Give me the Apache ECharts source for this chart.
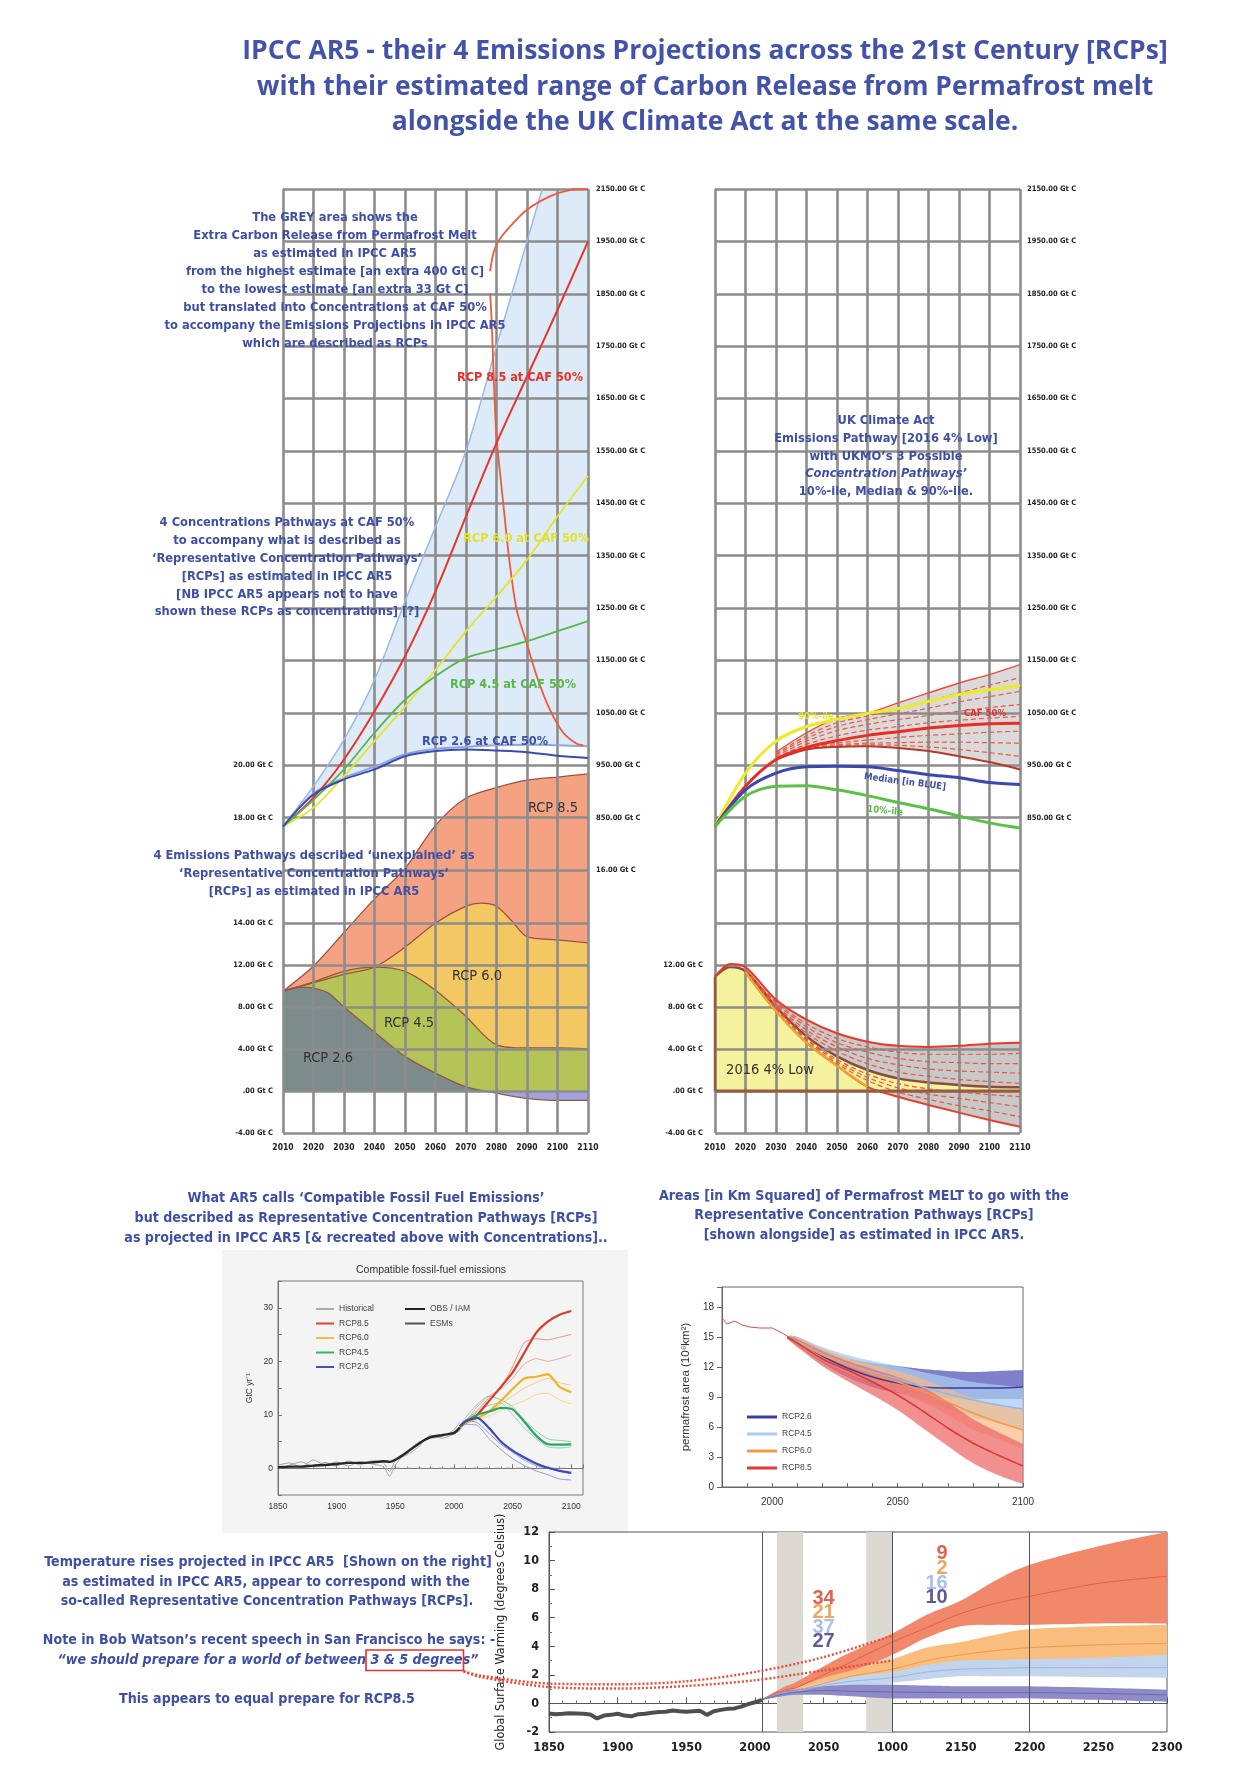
<!DOCTYPE html>
<html>
<head>
<meta charset="utf-8">
<title>IPCC AR5 RCPs and UK Climate Act</title>
<script src="https://cdn.jsdelivr.net/npm/echarts/dist/echarts.min.js"></script>
<style>
html,body{margin:0;padding:0;background:#ffffff;}
#chart{width:1256px;height:1787px;}
</style>
</head>
<body>
<div id="chart"></div>
<script>
// ================= DATA =================
const decadeTicks = [2010,2020,2030,2040,2050,2060,2070,2080,2090,2100,2110];
const decadeLabels = ['2010','2020','2030','2040','2050','2060','2070','2080','2090','2100','2110'];
const concTicks = [750,850,950,1050,1150,1250,1350,1450,1550,1650,1750,1850,1950,2050];
const concLabelsLeft = ['16.00 Gt C','850.00 Gt C','950.00 Gt C','1050.00 Gt C','1150.00 Gt C','1250.00 Gt C','1350.00 Gt C','1450.00 Gt C','1550.00 Gt C','1650.00 Gt C','1750.00 Gt C','1850.00 Gt C','1950.00 Gt C','2150.00 Gt C'];
const concLabelsRight = ['','850.00 Gt C','950.00 Gt C','1050.00 Gt C','1150.00 Gt C','1250.00 Gt C','1350.00 Gt C','1450.00 Gt C','1550.00 Gt C','1650.00 Gt C','1750.00 Gt C','1850.00 Gt C','1950.00 Gt C','2150.00 Gt C'];
const concSideTicks = [850,950];
const concSideLabels = ['18.00 Gt C','20.00 Gt C'];
const emTicks = [-4,0,4,8,12,16];
const emLabelsLeft = ['-4.00 Gt C','.00 Gt C','4.00 Gt C','8.00 Gt C','12.00 Gt C','14.00 Gt C'];
const emLabelsRight = ['-4.00 Gt C','.00 Gt C','4.00 Gt C','8.00 Gt C','12.00 Gt C',''];

// left panel – concentrations (Gt C) at CAF 50%
const concYears = [2010,2020,2030,2040,2050,2060,2070,2080,2090,2100,2110];
const rcp85Conc = [833,888,961,1053,1158,1282,1425,1565,1692,1819,1950];
const rcp60Conc = [833,869,929,996,1062,1132,1206,1272,1342,1425,1502];
const rcp45Conc = [833,884,942,1012,1075,1120,1155,1171,1187,1206,1225];
const rcp26Conc = [833,894,923,942,967,977,980,978,975,968,964];
const permaYears = [2010,2020,2030,2040,2050,2060,2070,2080,2090,2095,2100,2110];
const permaHighConc = [833,910,999,1113,1263,1405,1550,1750,1950,2050,2050,2050];
const permaLowConc = [833,896,926,947,971,981,985,988,989,989,988,986];
const arcUpYears = [2077.9,2079,2080.6,2084.4,2089.9,2097.5,2104,2110];
const arcUpConc = [1893,1928,1950,1978,2010,2036,2048,2050];
const arcDownYears = [2077.9,2078.4,2079,2080,2082.2,2084.2,2086.6,2089.9,2093.2,2097.5,2101.9,2106.3,2108.5];
const arcDownConc = [1851,1800,1705,1578,1451,1342,1247,1183,1120,1056,1012,991,988];
// left panel – emissions (Gt C / yr)
const emYears = [2010,2020,2030,2040,2050,2060,2070,2080,2090,2100,2110];
const rcp85Em = [9.5,11.9,15.1,18.3,21.2,25.3,27.9,28.9,29.6,29.9,30.2];
const em60Years = [2010,2020,2030,2040,2050,2060,2070,2075,2080,2085,2090,2100,2110];
const rcp60Em = [9.5,10.3,11.1,11.8,13.7,16.0,17.6,17.9,17.6,16.2,14.7,14.4,14.1];
const rcp45Em = [9.5,10.4,11.4,11.8,11.4,9.6,7.1,4.4,4.1,4.1,4.0];
const em26Years = [2010,2015,2020,2025,2030,2040,2050,2060,2070,2080,2090,2100,2110];
const rcp26Em = [9.5,9.9,9.8,9.3,8.0,5.6,3.3,1.7,0.4,-0.2,-0.7,-0.9,-0.9];

// right panel – UK Climate Act concentrations
const ukConc90 = [833,935,996,1024,1038,1049,1058,1072,1085,1094,1102];
const ukConc50 = [833,910,961,984,997,1007,1014,1021,1026,1029,1030];
const ukConcMed = [833,903,935,947,948,947,940,932,926,917,913];
const ukConc10 = [833,891,910,911,903,892,879,867,853,840,830];
const fanYears = [2030,2040,2050,2060,2070,2080,2090,2100,2110];
const fanTop = [975,1012,1040,1049,1069,1088,1107,1123,1142];
const fanL1 = [972,1006,1031,1044,1058,1073,1088,1103,1117];
const fanL2 = [970,1001,1024,1037,1048,1059,1071,1081,1091];
const fanL3 = [967,996,1016,1028,1037,1045,1053,1060,1066];
const fanL4 = [964,990,1006,1017,1024,1031,1036,1040,1043];
const fanL5 = [961,982,992,998,1003,1007,1010,1013,1015];
const fanL6 = [961,981,989,992,993,994,994,993,992];
const fanL7 = [961,980,987,989,988,985,980,974,967];
const fanBottom = [961,980,985,986,983,977,967,956,942];
// right panel – UK emissions pathway (2016 4% Low)
const ukEmYears = [2010,2015,2020,2030,2040,2050,2060,2070,2080,2090,2100,2110];
const ukEm = [10.9,11.8,11.4,8.0,5.2,3.3,2.0,1.2,0.8,0.57,0.4,0.35];
const ukTopEm = [10.9,12.1,11.8,8.7,6.8,5.5,4.7,4.3,4.2,4.3,4.5,4.6];
const ukFanYears = [2020,2030,2040,2050,2060,2070,2080,2090,2100,2110];
const ukFanTop = [11.8,8.7,6.8,5.5,4.7,4.3,4.2,4.3,4.5,4.6];
const ukFanBot = [11.3,7.6,4.6,2.4,0.4,-0.55,-1.33,-2.06,-2.76,-3.4];
const ukU1 = [11.5,8.5,6.4,5.0,4.2,3.7,3.5,3.5,3.5,3.6];
const ukU2 = [11.5,8.4,6.1,4.6,3.7,3.1,2.8,2.7,2.6,2.6];
const ukU3 = [11.4,8.2,5.8,4.2,3.1,2.5,2.1,1.9,1.8,1.7];
const ukU4 = [11.4,8.1,5.5,3.8,2.6,1.8,1.4,1.1,0.9,0.73];
const ukD1 = [11.4,7.9,5.0,3.0,1.6,0.7,0.2,-0.1,-0.35,-0.54];
const ukD2 = [11.4,7.8,4.9,2.8,1.3,0.3,-0.3,-0.7,-1.1,-1.5];
const ukD3 = [11.3,7.7,4.7,2.6,1.0,-0.1,-0.8,-1.4,-1.9,-2.45];
const ukBaseYears = [2010,2110];
const ukBaseEm = [0,0];
const ukEdgeYears = [2010,2010];
const ukEdgeEm = [0,10.9];

// compatible fossil-fuel emissions (GtC/yr)
const ffHistYears = [1850,1860,1870,1880,1890,1900,1910,1920,1930,1940,1945,1950,1960,1970,1980,1990,2000,2005];
const ffObs = [0.2,0.3,0.3,0.5,0.6,0.8,1.0,1.0,1.1,1.3,1.2,1.6,3.0,4.6,5.8,6.2,6.6,7.6];
const ffHistA = [0.6,1.0,0.2,1.6,0.6,1.2,0.4,1.2,0.8,0.3,-1.5,0.6,3.2,4.9,5.6,5.9,7.2,8.6];
const ffHistB = [-0.2,0.6,1.2,0.3,1.1,0.4,1.4,0.6,1.4,1.0,-0.6,1.4,2.5,4.0,6.2,5.6,6.4,7.0];
const ffYears = [2005,2010,2020,2030,2040,2050,2060,2070,2080,2090,2100];
const ff85 = [7.8,8.5,10.0,12.6,15.2,17.9,21.6,25.3,27.4,28.7,29.4];
const ff85a = [7.5,9.0,10.8,13.2,15.0,19.0,23.5,24.2,24.0,24.5,25.0];
const ff85b = [7.0,8.8,11.5,13.5,14.8,16.8,19.5,20.5,20.0,20.5,21.2];
const ff60 = [7.8,8.5,9.4,10.6,12.6,14.8,16.8,17.1,17.6,15.2,14.2];
const ff60a = [7.6,8.3,9.0,9.8,10.8,11.8,12.6,13.8,14.0,12.8,12.0];
const ff60b = [7.7,8.6,9.5,10.5,12.0,13.5,15.0,16.0,16.8,16.0,15.5];
const ff45 = [7.8,8.7,10.0,10.6,11.3,11.0,8.7,6.1,4.5,4.4,4.45];
const ff45a = [8.0,9.5,12.0,13.5,12.8,11.5,9.0,7.0,5.5,5.2,5.0];
const ff45b = [7.5,8.8,10.5,11.8,12.2,10.0,7.5,5.5,4.0,3.8,4.0];
const ff26 = [7.8,8.8,9.4,7.5,5.0,3.3,2.0,0.9,0.1,-0.5,-0.85];
const ff26a = [7.5,8.2,8.0,5.5,3.5,1.8,0.5,-0.5,-1.2,-2.0,-2.2];
const ff26b = [7.9,9.0,8.5,6.5,4.5,3.0,1.5,0.5,0.0,-0.5,-1.0];
const ffZeroYears = [1950,2100];
const ffZero = [0,0];

// permafrost area (10^6 km2)
const pfHistYears = [1980,1982,1985,1988,1991,1995,2000,2004,2006];
const pfHist = [16.9,16.3,16.6,16.2,16.0,15.9,15.9,15.4,15.1];
const pfYears = [2006,2010,2020,2030,2040,2050,2060,2070,2080,2090,2100];
const pf26Mean = [15.0,14.6,13.1,11.9,11.0,10.4,10.0,9.9,9.9,9.9,10.0];
const pf26Lo = [14.9,14.1,12.4,11.0,10.0,9.4,9.0,8.9,8.8,8.8,8.8];
const pf26Hi = [15.1,15.0,13.8,12.9,12.4,12.1,11.8,11.6,11.5,11.6,11.7];
const pf45Mean = [15.0,14.6,13.3,12.3,11.5,10.8,10.0,9.3,8.7,8.2,7.8];
const pf45Lo = [14.9,14.2,12.6,11.4,10.4,9.5,8.7,7.8,7.0,6.4,5.8];
const pf45Hi = [15.1,15.0,14.0,13.2,12.6,12.1,11.5,11.0,10.5,10.2,10.0];
const pf60Mean = [15.0,14.5,13.2,12.2,11.3,10.5,9.6,8.5,7.4,6.5,5.7];
const pf60Lo = [14.9,14.1,12.6,11.4,10.4,9.5,8.5,7.2,5.8,4.8,3.8];
const pf60Hi = [15.1,15.0,13.8,12.9,12.2,11.6,10.8,9.8,8.9,8.2,7.7];
const pf85Mean = [15.0,14.4,12.8,11.7,10.5,9.2,7.6,5.9,4.4,3.2,2.1];
const pf85Lo = [14.8,14.0,12.1,10.6,9.2,7.7,5.9,4.1,2.4,1.2,0.3];
const pf85Hi = [15.1,14.8,13.6,12.6,11.8,11.0,10.0,8.5,6.8,5.5,4.3];

// global surface warming (deg C)
const tHistYears = [1850,1855,1860,1865,1870,1875,1880,1885,1890,1895,1900,1905,1910,1915,1920,1925,1930,1935,1940,1945,1950,1955,1960,1965,1970,1975,1980,1985,1990,1995,2000,2005];
const tHist = [-0.70,-0.75,-0.72,-0.68,-0.70,-0.72,-0.78,-1.05,-0.85,-0.80,-0.72,-0.85,-0.90,-0.75,-0.72,-0.65,-0.60,-0.58,-0.50,-0.55,-0.58,-0.55,-0.52,-0.80,-0.55,-0.45,-0.38,-0.35,-0.22,-0.05,0.08,0.25];
const tYears = [2005,2020,2030,2050,2070,2100,2125,2150,2175,2200,2250,2300];
const t85Lo = [0.25,0.6,0.75,1.3,2.2,3.4,4.6,5.4,5.5,5.5,5.6,5.6];
const t85Hi = [0.3,1.1,1.5,2.6,3.6,4.9,6.2,7.2,8.6,9.7,11.0,12.0];
const t85Mean = [0.27,0.9,1.1,2.0,2.9,4.3,5.3,6.3,7.0,7.5,8.4,8.9];
const t60Lo = [0.25,0.55,0.7,1.1,1.5,1.9,2.4,2.65,2.8,2.9,3.0,3.1];
const t60Hi = [0.3,0.9,1.1,1.8,2.3,3.1,3.9,4.3,4.8,5.2,5.4,5.5];
const t60Mean = [0.27,0.7,0.9,1.4,1.9,2.4,3.0,3.4,3.7,3.9,4.1,4.2];
const t45Lo = [0.25,0.55,0.7,1.0,1.2,1.45,1.7,1.9,1.9,1.9,1.85,1.8];
const t45Hi = [0.3,0.85,1.0,1.5,1.9,2.2,2.7,3.0,3.05,3.1,3.2,3.4];
const t45Mean = [0.27,0.7,0.85,1.25,1.55,1.8,2.2,2.4,2.45,2.5,2.5,2.5];
const t26Lo = [0.25,0.5,0.6,0.6,0.5,0.35,0.35,0.35,0.35,0.35,0.25,0.12];
const t26Hi = [0.3,0.85,1.0,1.2,1.3,1.3,1.25,1.2,1.2,1.2,1.1,0.96];
const t26Mean = [0.27,0.65,0.8,0.9,0.85,0.8,0.78,0.75,0.75,0.75,0.7,0.6];
const tDotYears = [1788,1800,1850,1900,1950,2000,2050,2100];
const tDotUpper = [2.24,1.96,1.39,1.34,1.55,2.2,3.24,4.74];
const tDotLower = [2.24,1.85,1.15,1.04,1.22,1.62,2.31,3.0];
const tBarStart = [2016,2081];
const tBarEnd = [2035,2100];
const tRefYears = [2005,2100,2200];
const tTicks = [1850,1900,1950,2000,2050,2100,2150,2200,2250,2300];
const tLabels = ['1850','1900','1950','2000','2050','1000','2150','2200','2250','2300'];

// ================= HELPERS =================
const GRIDC = '#8c8c8c', GW = 2.6;
const NARROW = '"Liberation Sans Narrow","DejaVu Sans Condensed",sans-serif';
const SANS = '"Liberation Sans",Arial,sans-serif';
const BLUE = '#3e4fa6';
const pick = (ticks, labels) => v => { const i = ticks.findIndex(t => Math.abs(t - v) < 1e-6); return i >= 0 ? labels[i] : ''; };
const P = (xs, ys) => xs.map((x, i) => [x, ys[i]]);

const grids = [
  {left:283, top:189, width:305, height:944},
  {left:283, top:189, width:305, height:681},
  {left:283, top:923, width:305, height:210},
  {left:715, top:189, width:305, height:944},
  {left:715, top:189, width:305, height:681},
  {left:715, top:923, width:305, height:210},
  {left:278, top:1281, width:305, height:214, show:true, borderColor:'#7a7a7a', borderWidth:1},
  {left:722, top:1287, width:301, height:200, show:true, borderColor:'#666', borderWidth:1},
  {left:549, top:1532, width:618, height:200, show:true, borderColor:'#555', borderWidth:1},
  // same vertical scale as the warming plot, widened to the left for the annotation curves
  {left:463.6, top:1532, width:703.4, height:200}
].map(g => Object.assign({outerBoundsMode:'none', containLabel:false}, g));

function tinyLabel(margin, formatter, size) {
  return {margin, formatter, fontSize:size || 7.5, fontWeight:'bold', fontFamily:NARROW, color:'#222', showMinLabel:true, showMaxLabel:true};
}
function vertX(gi) {
  return {gridIndex:gi, type:'value', min:2010, max:2110, interval:10, z:3,
    axisLine:{show:false}, axisTick:{show:false},
    splitLine:{show:true, lineStyle:{color:GRIDC, width:GW}},
    axisLabel:tinyLabel(10, pick(decadeTicks, decadeLabels), 8.5)};
}
function hidX(gi) { return {gridIndex:gi, type:'value', min:2010, max:2110, show:false}; }
function concY(gi, labels, margin) {
  return {gridIndex:gi, type:'value', min:750, max:2050, interval:100, position:'right', z:3,
    axisLine:{show:false}, axisTick:{show:false},
    splitLine:{show:true, lineStyle:{color:GRIDC, width:GW}},
    axisLabel:tinyLabel(margin, pick(concTicks, labels))};
}
function emY(gi, labels, margin) {
  return {gridIndex:gi, type:'value', min:-4, max:16, interval:4, position:'left', z:3,
    axisLine:{show:false}, axisTick:{show:false},
    splitLine:{show:true, lineStyle:{color:GRIDC, width:GW}},
    axisLabel:tinyLabel(margin, pick(emTicks, labels))};
}

const xAxis = [
  vertX(0), hidX(1), hidX(2),
  vertX(3), hidX(4), hidX(5),
  {gridIndex:6, type:'value', min:1850, max:2110, interval:50,
    axisLine:{show:true, lineStyle:{color:'#777'}}, axisTick:{inside:true, length:4, lineStyle:{color:'#777'}},
    minorTick:{show:true, splitNumber:5, length:2, lineStyle:{color:'#999'}}, splitLine:{show:false},
    axisLabel:{margin:7, fontSize:8.5, fontFamily:SANS, color:'#333', formatter:v => (v <= 2100 ? String(v) : '')}},
  {gridIndex:7, type:'value', min:1980, max:2100, interval:10,
    axisLine:{show:true, lineStyle:{color:'#666'}}, axisTick:{inside:true, length:4, lineStyle:{color:'#666'}}, splitLine:{show:false},
    axisLabel:{margin:10, fontSize:10, fontFamily:SANS, color:'#333', formatter:v => (v % 50 === 0 ? String(v) : '')}},
  {gridIndex:8, type:'value', min:1850, max:2300, interval:50,
    axisLine:{show:true, lineStyle:{color:'#555'}}, axisTick:{inside:true, length:6, lineStyle:{color:'#555'}},
    minorTick:{show:true, splitNumber:5, length:3, lineStyle:{color:'#777'}}, splitLine:{show:false},
    axisLabel:{margin:9, fontSize:12.5, fontWeight:'bold', fontFamily:NARROW, color:'#222', formatter:pick(tTicks, tLabels)}},
  {gridIndex:9, type:'value', min:1788, max:2300, show:false}
];
const yAxis = [
  {gridIndex:0, type:'value', min:0, max:1, show:false},
  concY(1, concLabelsLeft, 8),
  {gridIndex:1, type:'value', min:750, max:2050, interval:100, position:'left',
    axisLine:{show:false}, axisTick:{show:false}, splitLine:{show:false},
    axisLabel:tinyLabel(10, pick(concSideTicks, concSideLabels))},
  emY(2, emLabelsLeft, 10),
  {gridIndex:3, type:'value', min:0, max:1, show:false},
  concY(4, concLabelsRight, 7),
  emY(5, emLabelsRight, 12),
  {gridIndex:6, type:'value', min:-5, max:35, interval:5,
    axisLine:{show:true, lineStyle:{color:'#777'}}, axisTick:{inside:true, length:4, lineStyle:{color:'#777'}}, splitLine:{show:false},
    axisLabel:{margin:5, fontSize:8.5, fontFamily:SANS, color:'#333', formatter:v => (v % 10 === 0 ? String(v) : '')},
    name:'GtC yr\u207B\u00B9', nameLocation:'middle', nameRotate:90, nameGap:24, nameTextStyle:{fontSize:8.5, fontFamily:SANS, color:'#333'}},
  {gridIndex:7, type:'value', min:0, max:20, interval:3,
    axisLine:{show:true, lineStyle:{color:'#666'}}, axisTick:{inside:false, length:5, lineStyle:{color:'#666'}}, splitLine:{show:false},
    axisLabel:{margin:8, fontSize:10, fontFamily:SANS, color:'#333', formatter:v => (v <= 18 ? String(v) : '')},
    name:'permafrost area (10\u2076km\u00B2)', nameLocation:'middle', nameRotate:90, nameGap:30, nameTextStyle:{fontSize:11.5, fontFamily:SANS, color:'#333'}},
  {gridIndex:8, type:'value', min:-2, max:12, interval:2,
    axisLine:{show:true, lineStyle:{color:'#555'}}, axisTick:{inside:true, length:6, lineStyle:{color:'#555'}},
    minorTick:{show:true, splitNumber:2, length:3, lineStyle:{color:'#777'}}, splitLine:{show:false},
    axisLabel:{margin:10, fontSize:12.5, fontWeight:'bold', fontFamily:NARROW, color:'#222'},
    name:'Global Surface Warming (degrees Celsius)', nameLocation:'middle', nameRotate:90, nameGap:42,
    nameTextStyle:{fontSize:12.5, fontFamily:NARROW, color:'#222'}},
  {gridIndex:9, type:'value', min:-2, max:12, show:false}
];

const S = [];
function ln(name, xs, ys, xi, yi, color, width, opt) {
  const s = {type:'line', name, data:P(xs, ys), xAxisIndex:xi, yAxisIndex:yi, symbol:'none', showSymbol:false,
    smooth:0.3, silent:true, z:4, lineStyle:{color, width}, itemStyle:{color}};
  if (opt) {
    const ls = opt.lineStyle; delete opt.lineStyle;
    Object.assign(s, opt);
    if (ls) Object.assign(s.lineStyle, ls);
  }
  S.push(s); return s;
}
// Catmull-Rom smoothing of already projected pixel points (drawing only)
function curve(pts) {
  if (pts.length < 3) return pts.slice();
  const out = [];
  for (let i = 0; i < pts.length - 1; i++) {
    const p0 = pts[Math.max(i - 1, 0)], p1 = pts[i], p2 = pts[i + 1], p3 = pts[Math.min(i + 2, pts.length - 1)];
    for (let k = 0; k < 8; k++) {
      const t = k / 8, t2 = t * t, t3 = t2 * t;
      const f = d => 0.5 * (2 * p1[d] + (-p0[d] + p2[d]) * t + (2 * p0[d] - 5 * p1[d] + 4 * p2[d] - p3[d]) * t2 + (-p0[d] + 3 * p1[d] - 3 * p2[d] + p3[d]) * t3);
      out.push([f(0), f(1)]);
    }
  }
  out.push(pts[pts.length - 1]);
  return out;
}
function band(id, xs, lo, hi, color, xi, yi, opacity, z) {
  S.push({type:'custom', name:id, xAxisIndex:xi, yAxisIndex:yi, z:(z === undefined ? 1 : z), silent:true, clip:true,
    data:[[xs[0], lo[0]]],
    renderItem:(params, api) => {
      const up = curve(xs.map((x, i) => api.coord([x, hi[i]])));
      const dn = curve(xs.map((x, i) => api.coord([x, lo[i]]))).reverse();
      return {type:'polygon', shape:{points:up.concat(dn)}, style:{fill:color, opacity:opacity}};
    }});
}
function area(name, xs, ys, xi, yi, color, edge, z) {
  const s = {type:'line', name, data:P(xs, ys), xAxisIndex:xi, yAxisIndex:yi, symbol:'none', showSymbol:false,
    smooth:0.3, clip:false, silent:true, z:(z || 2), lineStyle:{color:edge, width:1.3}, areaStyle:{opacity:1}};
  if (color) s.areaStyle.color = color;
  S.push(s); return s;
}

// ---- left panel ----
band('permaFill', permaYears, permaLowConc, permaHighConc, '#dcebf7', 1, 1, 1, 1);
ln('permaHigh', permaYears.slice(0, 10), permaHighConc.slice(0, 10), 1, 1, '#9bb9e3', 1.5);
ln('permaLow', permaYears, permaLowConc, 1, 1, '#8ea6dc', 2);
ln('arcUp', arcUpYears, arcUpConc, 1, 1, '#ef5a3c', 1.8);
ln('arcDown', arcDownYears, arcDownConc, 1, 1, '#ef5a3c', 1.8);
ln('c85', concYears, rcp85Conc, 1, 1, '#e8342a', 2);
ln('c60', concYears, rcp60Conc, 1, 1, '#e4e42c', 1.8);
ln('c45', concYears, rcp45Conc, 1, 1, '#5ab848', 1.8);
ln('c26', concYears, rcp26Conc, 1, 1, '#3b4cb0', 2);
area('e85', emYears, rcp85Em, 2, 3, '#f5a283', '#a0503f');
area('e60', em60Years, rcp60Em, 2, 3, '#f3c862', '#a0503f');
area('e45', emYears, rcp45Em, 2, 3, '#b4c456', '#a0503f');
const e26 = area('e26', em26Years, rcp26Em, 2, 3, null, '#8d5a48');

// ---- right panel, concentrations ----
band('ukFan', fanYears, fanBottom, fanTop, '#dadada', 4, 5, 1, 1);
[fanL1, fanL2, fanL3, fanL4, fanL5, fanL6, fanL7].forEach((arr, i) =>
  ln('fan' + i, fanYears, arr, 4, 5, '#f0583f', 1.2, {lineStyle:{type:[5, 3]}}));
ln('fanTop', fanYears, fanTop, 4, 5, '#ee4a36', 1.4);
ln('fanBottom', fanYears, fanBottom, 4, 5, '#b53a2c', 2);
ln('uk90', concYears, ukConc90, 4, 5, '#eeea26', 3);
ln('uk50', concYears, ukConc50, 4, 5, '#ee2a22', 3);
ln('ukMed', concYears, ukConcMed, 4, 5, '#3848b0', 3);
ln('uk10', concYears, ukConc10, 4, 5, '#5cbf48', 3);

// ---- right panel, emissions ----
band('ukEmFan', ukFanYears, ukFanBot, ukFanTop, '#c9c9c9', 5, 6, 1, 1);
area('ukLow', ukEmYears, ukEm, 5, 6, '#f4f29c', '#8c4b3b', 2).lineStyle.width = 2.5;
[ukU1, ukU2, ukU3, ukU4, ukD1, ukD2, ukD3].forEach((arr, i) =>
  ln('ukDash' + i, ukFanYears, arr, 5, 6, '#ef553e', 1.2, {lineStyle:{type:[5, 3]}}));
ln('ukTop', ukEmYears, ukTopEm, 5, 6, '#e8382a', 2);
ln('ukBot', ukFanYears, ukFanBot, 5, 6, '#e8402c', 2);
ln('ukBotOrange', ukFanYears.slice(0, 5), ukFanBot.slice(0, 5), 5, 6, '#f2a52e', 2.2);
ln('ukBase', ukBaseYears, ukBaseEm, 5, 6, '#9a5a3e', 3, {smooth:false});
ln('ukEdge', ukEdgeYears, ukEdgeEm, 5, 6, '#9a5a3e', 2.5, {smooth:false});

// ---- compatible fossil-fuel emissions ----
ln('ffZero', ffZeroYears, ffZero, 6, 7, '#888', 1, {smooth:false, lineStyle:{type:[5, 6]}});
ln('Historical', ffHistYears, ffHistA, 6, 7, '#a6a6a6', 1, {smooth:0.2});
ln('ESMs', ffHistYears, ffHistB, 6, 7, '#a6a6a6', 1, {smooth:0.2});
[[ff85a, '#e57a6c'], [ff85b, '#e8958a'], [ff60a, '#f3cf70'], [ff60b, '#f0c45a'], [ff45a, '#6fc398'], [ff45b, '#78c9a0'], [ff26a, '#8088d0'], [ff26b, '#7880cc']].forEach((p, i) =>
  ln('esm' + i, ffYears, p[0], 6, 7, p[1], 1, {smooth:0.2, lineStyle:{opacity:0.8}}));
ln('OBS / IAM', ffHistYears, ffObs, 6, 7, '#262626', 2.4, {smooth:0.2});
ln('RCP8.5', ffYears, ff85, 6, 7, '#d63c2a', 2.2, {smooth:0.2});
ln('RCP6.0', ffYears, ff60, 6, 7, '#f2b320', 2.2, {smooth:0.2});
ln('RCP4.5', ffYears, ff45, 6, 7, '#2aa566', 2.2, {smooth:0.2});
ln('RCP2.6', ffYears, ff26, 6, 7, '#3b48b8', 2.2, {smooth:0.2});

// ---- permafrost area ----
band('pf26', pfYears, pf26Lo, pf26Hi, '#6a68c0', 7, 8, 0.85, 2);
band('pf45', pfYears, pf45Lo, pf45Hi, '#a9ccf0', 7, 8, 0.75, 2);
band('pf60', pfYears, pf60Lo, pf60Hi, '#f8b985', 7, 8, 0.7, 2);
band('pf85', pfYears, pf85Lo, pf85Hi, '#ee6a6a', 7, 8, 0.75, 2);
ln('pfHist', pfHistYears, pfHist, 7, 8, '#e04848', 1, {smooth:false});
ln('pf RCP2.6', pfYears, pf26Mean, 7, 8, '#3c3ca6', 1.5);
ln('pf RCP4.5', pfYears, pf45Mean, 7, 8, '#8fb8ec', 1.5);
ln('pf RCP6.0', pfYears, pf60Mean, 7, 8, '#f39a48', 1.5);
ln('pf RCP8.5', pfYears, pf85Mean, 7, 8, '#d83a3a', 1.5);

// ---- global surface warming ----
S.push({type:'line', name:'tBars', data:P(tRefYears, [0, 0, 0]), xAxisIndex:8, yAxisIndex:9, z:0, silent:true,
  symbol:'none', showSymbol:false, lineStyle:{width:0, opacity:0},
  markArea:{silent:true, itemStyle:{color:'#dcd9d2'},
    data:tBarStart.map((s, i) => [{xAxis:s}, {xAxis:tBarEnd[i]}])},
  markLine:{silent:true, symbol:'none', label:{show:false}, lineStyle:{color:'#555', width:1, type:'solid'},
    data:tRefYears.map(y => ({xAxis:y}))}});
band('t85', tYears, t85Lo, t85Hi, '#f2886a', 8, 9, 1, 2);
band('t60', tYears, t60Lo, t60Hi, '#f9bd7e', 8, 9, 1, 2);
band('t45', tYears, t45Lo, t45Hi, '#c3d5ee', 8, 9, 1, 2);
band('t26', tYears, t26Lo, t26Hi, '#8f8bc8', 8, 9, 1, 2);
ln('t85m', tYears, t85Mean, 8, 9, '#e0604a', 1);
ln('t60m', tYears, t60Mean, 8, 9, '#f0984a', 1);
ln('t45m', tYears, t45Mean, 8, 9, '#9ab6de', 1);
ln('t26m', tYears, t26Mean, 8, 9, '#6a66b0', 1);
ln('tHist', tHistYears, tHist, 8, 9, '#4e4e4e', 4, {smooth:false});
ln('tDotUp', tDotYears, tDotUpper, 9, 10, '#ea4a36', 2.4, {z:6, lineStyle:{type:[2, 2]}});
ln('tDotLo', tDotYears, tDotLower, 9, 10, '#ea4a36', 2.4, {z:6, lineStyle:{type:[2, 2]}});

// ================= TEXT =================
const G = [];
function T(x, y, text, o) {
  o = o || {};
  G.push({type:'text', x, y, rotation:o.rot || 0, z:50, silent:true,
    style:{text, fill:o.color || BLUE, fontSize:o.size || 12.8, fontWeight:o.weight || 'bold',
      fontStyle:o.italic ? 'italic' : 'normal', fontFamily:o.family || NARROW, align:o.align || 'center', verticalAlign:'middle'}});
}
G.push({type:'rect', z:-5, silent:true, shape:{x:222, y:1250, width:406, height:283}, style:{fill:'#f4f4f4'}});
const TITLE = {size:26.5, family:'"Open Sans","Noto Sans",sans-serif', color:'#4353a9'};
T(705, 51, 'IPCC AR5 - their 4 Emissions Projections across the 21st Century [RCPs]', TITLE);
T(705, 87, 'with their estimated range of Carbon Release from Permafrost melt', TITLE);
T(705, 122, 'alongside the UK Climate Act at the same scale.', TITLE);

['The GREY area shows the', 'Extra Carbon Release from Permafrost Melt', 'as estimated in IPCC AR5',
 'from the highest estimate [an extra 400 Gt C]', 'to the lowest estimate [an extra 33 Gt C]',
 'but translated into Concentrations at CAF 50%', 'to accompany the Emissions Projections in IPCC AR5',
 'which are described as RCPs'].forEach((t, i) => T(335, 218 + i * 18, t));
['4 Concentrations Pathways at CAF 50%', 'to accompany what is described as',
 '\u2018Representative Concentration Pathways\u2019', '[RCPs] as estimated in IPCC AR5',
 '[NB IPCC AR5 appears not to have', 'shown these RCPs as concentrations] [?]'].forEach((t, i) => T(287, 523 + i * 17.8, t));
['4 Emissions Pathways described \u2018unexplained\u2019 as', '\u2018Representative Concentration Pathways\u2019',
 '[RCPs] as estimated in IPCC AR5'].forEach((t, i) => T(314, 856 + i * 18, t));
T(886, 421, 'UK Climate Act');
T(886, 439, 'Emissions Pathway [2016 4% Low]');
T(886, 456.5, 'with UKMO\u2019s 3 Possible');
T(886, 474, 'Concentration Pathways\u2019', {italic:true});
T(886, 492, '10%-ile, Median & 90%-ile.');

const LBL = 12.6;
T(520, 378, 'RCP 8.5 at CAF 50%', {color:'#e8302a', size:LBL});
T(526, 539, 'RCP 6.0 at CAF 50%', {color:'#e2e22a', size:LBL});
T(513, 685, 'RCP 4.5 at CAF 50%', {color:'#5ab848', size:LBL});
T(485, 742, 'RCP 2.6 at CAF 50%', {color:BLUE, size:LBL});
const DARK = {color:'#333', weight:'normal', size:14.5};
T(553, 808, 'RCP 8.5', DARK);
T(477, 976, 'RCP 6.0', DARK);
T(409, 1023, 'RCP 4.5', DARK);
T(328, 1058, 'RCP 2.6', DARK);
T(816, 717, '90%-ile', {color:'#e8e42a', size:9.5});
T(985, 714, 'CAF 50%', {color:'#e8302a', size:9.5});
T(905, 782, 'Median [in BLUE]', {color:BLUE, size:9.5, rot:-0.13});
T(885, 811, '10%-ile', {color:'#5ab848', size:9.5, rot:-0.1});
T(770, 1070, '2016 4% Low', DARK);

const LOW = {size:14.1};
['What AR5 calls \u2018Compatible Fossil Fuel Emissions\u2019', 'but described as Representative Concentration Pathways [RCPs]',
 'as projected in IPCC AR5 [& recreated above with Concentrations]..'].forEach((t, i) => T(366, 1198 + i * 20.2, t, LOW));
['Areas [in Km Squared] of Permafrost MELT to go with the', 'Representative Concentration Pathways [RCPs]',
 '[shown alongside] as estimated in IPCC AR5.'].forEach((t, i) => T(864, 1196 + i * 19.5, t, LOW));
T(431, 1270.5, 'Compatible fossil-fuel emissions', {size:10.5, weight:'normal', family:SANS, color:'#333'});

T(268, 1562, 'Temperature rises projected in IPCC AR5  [Shown on the right]', LOW);
T(266, 1582, 'as estimated in IPCC AR5, appear to correspond with the', LOW);
T(267, 1601.5, 'so-called Representative Concentration Pathways [RCPs].', LOW);
T(269, 1640, 'Note in Bob Watson\u2019s recent speech in San Francisco he says: -', LOW);
T(268, 1660, '\u201Cwe should prepare for a world of between 3 & 5 degrees\u201D', {italic:true, size:14.1});
T(267, 1699, 'This appears to equal prepare for RCP8.5', LOW);
G.push({type:'rect', z:51, silent:true, shape:{x:366, y:1650, width:97.5, height:20.5}, style:{fill:'none', stroke:'#e8302a', lineWidth:1.6}});

const NUM = {size:20, weight:'bold', family:SANS};
T(823.5, 1598, '34', Object.assign({color:'#e0634e'}, NUM));
T(823.5, 1612.5, '21', Object.assign({color:'#f0a55a'}, NUM));
T(823.5, 1627, '37', Object.assign({color:'#a9c2e4'}, NUM));
T(823.5, 1641, '27', Object.assign({color:'#5c5a9c'}, NUM));
T(942, 1553.5, '9', Object.assign({color:'#e0634e'}, NUM));
T(942, 1568, '2', Object.assign({color:'#f0a55a'}, NUM));
T(936.5, 1583, '16', Object.assign({color:'#a9c2e4'}, NUM));
T(936.5, 1597.5, '10', Object.assign({color:'#5c5a9c'}, NUM));

// ================= OPTION =================
const legendText = {fontSize:8.5, fontFamily:SANS, color:'#444', lineHeight:12};
const option = {
  animation:false,
  backgroundColor:'#ffffff',
  grid:grids,
  xAxis, yAxis,
  visualMap:[{type:'piecewise', show:false, seriesIndex:S.indexOf(e26), dimension:1,
    pieces:[{gte:-10, lt:0, color:'#a3a3df'}, {gte:0, lte:40, color:'#7d8c8b'}]}],
  legend:[
    {orient:'vertical', left:311, top:1298, itemWidth:18, itemHeight:2, itemGap:2.5, icon:'rect', selectedMode:false, textStyle:legendText,
      data:[{name:'Historical', itemStyle:{color:'#aaaaaa'}}, {name:'RCP8.5', itemStyle:{color:'#d9472f'}},
        {name:'RCP6.0', itemStyle:{color:'#f2c040'}}, {name:'RCP4.5', itemStyle:{color:'#3db070'}}, {name:'RCP2.6', itemStyle:{color:'#4450bc'}}]},
    {orient:'vertical', left:400, top:1298, itemWidth:20, itemHeight:2, itemGap:2.5, icon:'rect', selectedMode:false, textStyle:legendText,
      data:[{name:'OBS / IAM', itemStyle:{color:'#222'}}, {name:'ESMs', itemStyle:{color:'#555'}}]},
    {orient:'vertical', left:742, top:1406, itemWidth:30, itemHeight:3, itemGap:5, icon:'rect', selectedMode:false,
      textStyle:{fontSize:8.5, fontFamily:SANS, color:'#444', lineHeight:12}, formatter:n => n.replace('pf ', ''),
      data:[{name:'pf RCP2.6', itemStyle:{color:'#3c3ca6'}}, {name:'pf RCP4.5', itemStyle:{color:'#a9ccf0'}},
        {name:'pf RCP6.0', itemStyle:{color:'#f39a48'}}, {name:'pf RCP8.5', itemStyle:{color:'#e03a3a'}}]}
  ],
  graphic:{elements:G},
  series:S
};
const chart = echarts.init(document.getElementById('chart'), null, {renderer:'canvas'});
chart.setOption(option);
</script>
</body>
</html>
